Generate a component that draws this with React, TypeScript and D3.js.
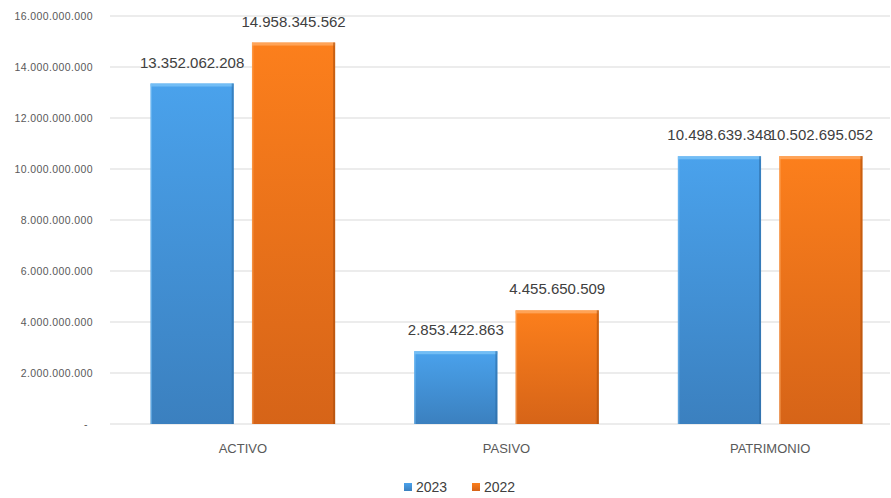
import React from "react";
import * as d3 from "d3";

const categories = ["ACTIVO", "PASIVO", "PATRIMONIO"];
const seriesNames = ["2023", "2022"];
const values2023 = [13352062208, 2853422863, 10498639348];
const values2022 = [14958345562, 4455650509, 10502695052];
const yTicks = [0, 2e9, 4e9, 6e9, 8e9, 10e9, 12e9, 14e9, 16e9];

const W = 891;
const H = 498;

const fmt = (v: number) => (v === 0 ? "-" : d3.format(",.0f")(v).replace(/,/g, "."));

export default function App() {
  const y = d3.scaleLinear().domain([0, 16e9]).range([424, 16]);
  const x0 = d3.scaleBand<string>().domain(categories).range([111, 902]).paddingInner(0.3).paddingOuter(0.15);
  const x1 = d3.scaleBand<string>().domain(seriesNames).range([0, x0.bandwidth()]).paddingInner(0.18);
  const series = [
    { name: "2023", values: values2023, grad: "gBlue", light: "#7cc4f7", dark: "#2b6aa3" },
    { name: "2022", values: values2022, grad: "gOrange", light: "#ffad66", dark: "#a94c0c" },
  ];
  return (
    <svg width={W} height={H} style={{ position: "absolute", left: 0, top: 0, background: "#fff" }}>
      <defs>
        <linearGradient id="gBlue" x1="0" y1="0" x2="0" y2="1">
          <stop offset="0" stopColor="#4aa2ec" />
          <stop offset="1" stopColor="#3b80bf" />
        </linearGradient>
        <linearGradient id="gOrange" x1="0" y1="0" x2="0" y2="1">
          <stop offset="0" stopColor="#fc7f1c" />
          <stop offset="1" stopColor="#d66418" />
        </linearGradient>
      </defs>
      {yTicks.map((t) => (
        <g key={t}>
          <line x1={110} x2={890} y1={y(t)} y2={y(t)} stroke="#d9d9d9" strokeWidth={1} />
          <text
            x={t === 0 ? 88 : 93}
            y={y(t)}
            dy="0.35em"
            textAnchor="end"
            fontFamily="'Liberation Sans', Arial, sans-serif"
            fontSize={10.5}
            fill="#595959"
            letterSpacing={0.4}
          >
            {fmt(t)}
          </text>
        </g>
      ))}
      {categories.map((c, i) => (
        <g key={c} transform={`translate(${x0(c)},0)`}>
          {series.map((s) => {
            const bx = x1(s.name)!;
            const bw = x1.bandwidth();
            const top = y(s.values[i]);
            const h = y(0) - top;
            return (
              <g key={s.name}>
                <rect x={bx} y={top} width={bw} height={h} fill={`url(#${s.grad})`} />
                <rect x={bx} y={top} width={bw} height={3} fill={s.light} opacity={0.8} />
                <rect x={bx + bw - 2} y={top} width={2} height={h} fill={s.dark} opacity={0.6} />
                <rect x={bx} y={top} width={1.5} height={h} fill={s.light} opacity={0.5} />
                <text
                  x={bx + bw / 2}
                  y={top - 16}
                  textAnchor="middle"
                  fontFamily="'Liberation Sans', Arial, sans-serif"
                  fontSize={15}
                  fill="#404040"
                >
                  {fmt(s.values[i])}
                </text>
              </g>
            );
          })}
          <text
            x={x0.bandwidth() / 2}
            y={453}
            textAnchor="middle"
            fontFamily="'Liberation Sans', Arial, sans-serif"
            fontSize={13}
            fill="#595959"
          >
            {c}
          </text>
        </g>
      ))}
      {series.map((s, i) => (
        <g key={s.name} transform={`translate(${404 + i * 68},483)`}>
          <rect x={0} y={0} width={8} height={8} fill={`url(#${s.grad})`} />
          <text x={12} y={9} fontFamily="'Liberation Sans', Arial, sans-serif" fontSize={14} fill="#404040">
            {s.name}
          </text>
        </g>
      ))}
    </svg>
  );
}
